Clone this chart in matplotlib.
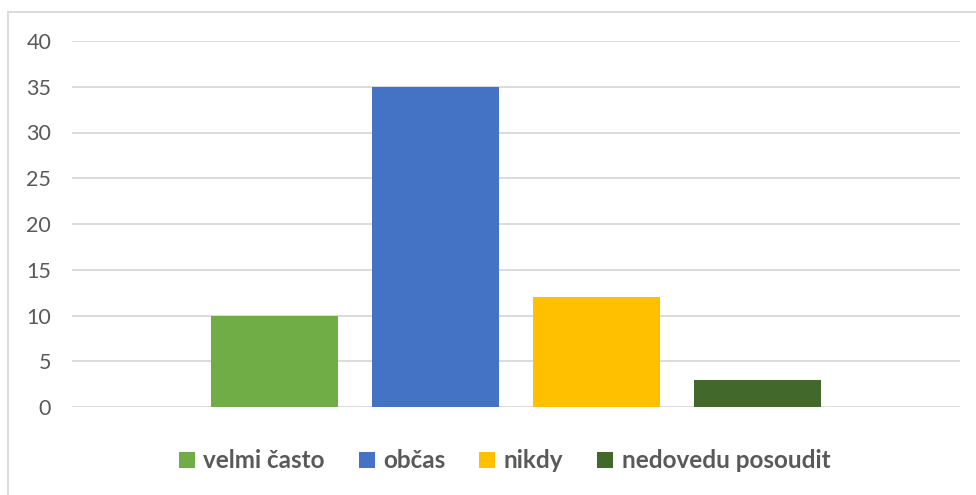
import matplotlib.pyplot as plt
from matplotlib.patches import Rectangle

# data
labels = ["velmi často", "občas", "nikdy", "nedovedu posoudit"]
values = [10, 35, 12, 3]
colors = ["#70AD47", "#4472C4", "#FFC000", "#43682B"]
yticks = [0, 5, 10, 15, 20, 25, 30, 35, 40]

plt.rcParams['font.family'] = ['Lato', 'DejaVu Sans']
txt_col = "#595959"
grid_col = "#D9D9D9"

fig = plt.figure(figsize=(9.76, 4.95), dpi=100)
ax = fig.add_axes([72 / 976, 88 / 495, 888 / 976, 366 / 495])

step = 161 / 888
width = 127 / 888
for i, (lab, v, c) in enumerate(zip(labels, values, colors)):
    ax.bar((i - 1.5) * step, v, width=width, color=c, label=lab, zorder=3)

ax.set_xlim(-0.5, 0.5)
ax.set_ylim(0, 40)
ax.set_yticks(yticks)
ax.set_xticks([])
ax.tick_params(axis='y', length=0, pad=15, labelsize=15.5, labelcolor=txt_col)
ax.grid(axis='y', color=grid_col, linewidth=1.3, zorder=0)
for s in ax.spines.values():
    s.set_visible(False)

# chart border (Excel-style)
fig.patches.append(Rectangle((8 / 976, -0.1), 1.2, (495 - 12) / 495 + 0.1,
                             transform=fig.transFigure, fill=False,
                             edgecolor=grid_col, linewidth=1.3))

leg = fig.legend(loc='center', bbox_to_anchor=(0.517, (495 - 461) / 495), ncol=4,
                 frameon=False, handlelength=0.65, handleheight=0.65,
                 handletextpad=0.35, columnspacing=1.4,
                 prop={'weight': 'bold', 'size': 17.5})
for t in leg.get_texts():
    t.set_color(txt_col)

fig.savefig("out.png", dpi=100)
